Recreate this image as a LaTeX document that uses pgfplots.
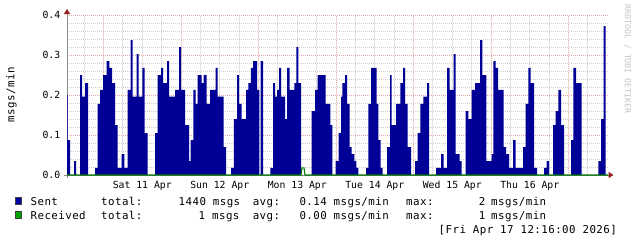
\documentclass[border=0pt]{standalone}
\usepackage{fontspec}
\setmainfont{DejaVu Sans Mono}
\newfontfamily\lgf[LetterSpace=4]{DejaVu Sans Mono}
\newfontfamily\axf{DejaVu Sans Mono}
\usepackage{pgfplots}
\pgfplotsset{compat=1.18}
\usetikzlibrary{arrows.meta}

\definecolor{areablue}{RGB}{0,0,150}
\definecolor{sentsq}{RGB}{0,0,165}
\definecolor{recvsq}{RGB}{0,165,0}
\definecolor{recvline}{RGB}{0,125,0}
\definecolor{mgrid}{RGB}{232,165,165}
\definecolor{ngrid}{RGB}{205,205,205}
\definecolor{axgray}{RGB}{140,140,140}
\definecolor{arrowred}{RGB}{150,30,30}
\definecolor{wm}{RGB}{195,195,195}

\newcommand\LF{\lgf\fontsize{10.8bp}{12bp}\selectfont}
\newcommand\AF{\axf\fontsize{9.8bp}{11bp}\selectfont}
\newcommand\WF{\axf\fontsize{8.2bp}{9bp}\selectfont}

\pgfplotstableread{
x y
67 0.2
67.7 0.0875
70 0
74 0.035
76 0
80 0.25
82 0.196
85 0.23
88 0
95 0.018
97.5 0.178
100 0.213
103 0.25
106.7 0.285
109.3 0.268
112 0.23
115 0.125
117.5 0.018
121.5 0.0525
124.3 0.018
127.7 0.213
130.7 0.3375
132.7 0.196
136.7 0.3025
138.7 0.196
142.3 0.268
144.7 0.105
147.7 0
155 0.105
157.7 0.25
161 0.268
163 0.23
167 0.285
169 0.196
175 0.213
179 0.32
181 0.213
185 0.125
189 0.035
190.7 0.0875
193.3 0.213
195.7 0.178
197.7 0.25
201.5 0.23
203.5 0.25
206.5 0.178
210 0.213
215.5 0.268
217.5 0.196
223.5 0.07
226 0
231 0.018
233.8 0.14
237 0.25
239.2 0.178
241.5 0.14
246 0.213
248.3 0.23
250.8 0.268
253 0.285
257 0.213
259.3 0
260.7 0.285
263 0
270.3 0.018
273 0.23
275 0.196
277 0.213
279 0.268
281 0.196
285 0.14
287 0.268
289.7 0.213
294.3 0.23
296.3 0.32
298.3 0.23
301 0
311.7 0.16
315 0.213
317.7 0.25
325.7 0.178
330.3 0.125
332.3 0
335.7 0.035
338.7 0.105
341 0.196
342.3 0.23
345 0.25
347 0.178
349.7 0.07
351.7 0.0525
354.3 0.035
356.3 0.018
358.3 0
366 0.018
368.3 0.178
371 0.268
376.7 0.178
378.3 0.0875
380.7 0.018
382.7 0
387 0.07
390 0.25
391.7 0.125
396 0.178
400.3 0.23
403 0.268
405 0.178
407.7 0.07
411 0
415 0.035
417.7 0.105
420.3 0.178
423.3 0.196
427 0.23
429 0
436 0.018
441 0.0525
443.7 0.018
447 0.268
449.7 0.213
453.7 0.3025
455.7 0.0525
459.7 0.035
461.7 0
465.7 0.16
468.3 0.14
471.7 0.213
475 0.23
480 0.3375
482.3 0.25
486.3 0.035
491.7 0.0525
493.3 0.285
495.7 0.268
498 0.213
503.7 0.07
506 0.0525
509 0.018
513 0.0875
515.5 0.018
523 0.07
525.7 0.178
528.3 0.268
530.5 0.23
534 0.018
537 0
544 0.018
546.7 0.035
549 0
553 0.125
555.7 0.16
558.3 0.213
561 0.125
564 0
571 0.0875
573.3 0.268
576 0.23
581.7 0
598.3 0.035
601 0.14
603.7 0.3725
605.7 0
608 0
}\senttable

\pgfplotstableread{
x y
67 0
301 0
302 0.018
304 0.018
305 0
608 0
}\recvtable

\begin{document}
\begin{tikzpicture}
\useasboundingbox (0,0) rectangle (637bp,243bp);
\begin{axis}[
  at={(67bp,68bp)}, anchor=south west,
  scale only axis, width=541bp, height=160bp,
  xmin=67, xmax=608, ymin=0, ymax=0.4,
  clip=false,
  axis x line*=bottom, axis y line*=left,
  axis line style={draw=axgray, line width=1bp},
  x axis line style={-{Triangle[length=5bp,width=6bp,color=arrowred]}, shorten >=-5.5bp, shorten <=-3bp},
  y axis line style={-{Triangle[length=5bp,width=6bp,color=arrowred]}, shorten >=-6bp, shorten <=-3bp},
  /pgf/number format/assume math mode=true,
  xtick={103.5,181,258.5,336,413.5,491,568.5}, xticklabels={},
  minor xtick={84.125,103.5,...,588},
  extra x ticks={142.25,219.75,297.25,374.75,452.25,529.75},
  extra x tick labels={Sat 11 Apr,Sun 12 Apr,Mon 13 Apr,Tue 14 Apr,Wed 15 Apr,Thu 16 Apr},
  extra x tick style={grid=none},
  ytick={0,0.1,0.2,0.3,0.4},
  yticklabels={0.0,0.1,0.2,0.3,0.4},
  minor y tick num=4,
  grid=both,
  major grid style={draw=mgrid, dash pattern=on 1bp off 1bp, line width=0.8bp},
  minor grid style={draw=ngrid, dash pattern=on 1bp off 1bp, line width=0.8bp},
  major tick length=0pt, minor tick length=0pt,
  tick style={draw=none},
  xticklabel style={font=\AF, anchor=base, inner sep=0pt, yshift=-13bp},
  yticklabel style={font=\AF, anchor=east, inner sep=0pt, xshift=-6.5bp},
  ylabel={msgs/min},
  ylabel style={font=\LF, at={(axis description cs:-0.1026,0.5)}, anchor=center},
  legend style={at={(axis description cs:-0.0961,-0.1375)}, anchor=north west,
    draw=none, fill=none, inner sep=0pt, row sep=6bp, font=\LF,
    nodes={inner sep=0pt, text height=8bp, text depth=0pt},
    /tikz/every odd column/.append style={column sep=9bp}},
  legend cell align=left,
  legend image code/.code={\draw[#1, draw=black!75, line width=0.5bp] (0bp,-3.5bp) rectangle (6bp,3.5bp);},
]
\addplot[const plot, fill=areablue, draw=none, forget plot] table[x=x,y=y] {\senttable} \closedcycle;
\addplot[recvline, line width=1.1bp, forget plot] table[x=x,y=y] {\recvtable};
\addlegendimage{fill=sentsq}
\addlegendentry{Sent}
\addlegendimage{fill=recvsq}
\addlegendentry{Received}
\end{axis}
\node[rotate=-90, font=\WF, text=wm, anchor=center] at (627.5bp,184bp) {RRDTOOL / TOBI OETIKER};
\begin{scope}[every node/.style={anchor=base west, inner sep=0pt, font=\LF}]
\node at (101bp,38bp) {total:};
\node at (178.5bp,38bp) {1440 msgs};
\node at (252.6bp,38bp) {avg:};
\node at (299.3bp,38bp) {0.14 msgs/min};
\node at (406bp,38bp) {max:};
\node at (478.6bp,38bp) {2};
\node at (491bp,38bp) {msgs/min};
\node at (101bp,24bp) {total:};
\node at (198.5bp,24bp) {1 msgs};
\node at (252.6bp,24bp) {avg:};
\node at (299.3bp,24bp) {0.00 msgs/min};
\node at (406bp,24bp) {max:};
\node at (478.6bp,24bp) {1};
\node at (491bp,24bp) {msgs/min};
\node at (438.5bp,10bp) {[Fri Apr 17 12:16:00 2026]};
\end{scope}
\end{tikzpicture}
\end{document}
